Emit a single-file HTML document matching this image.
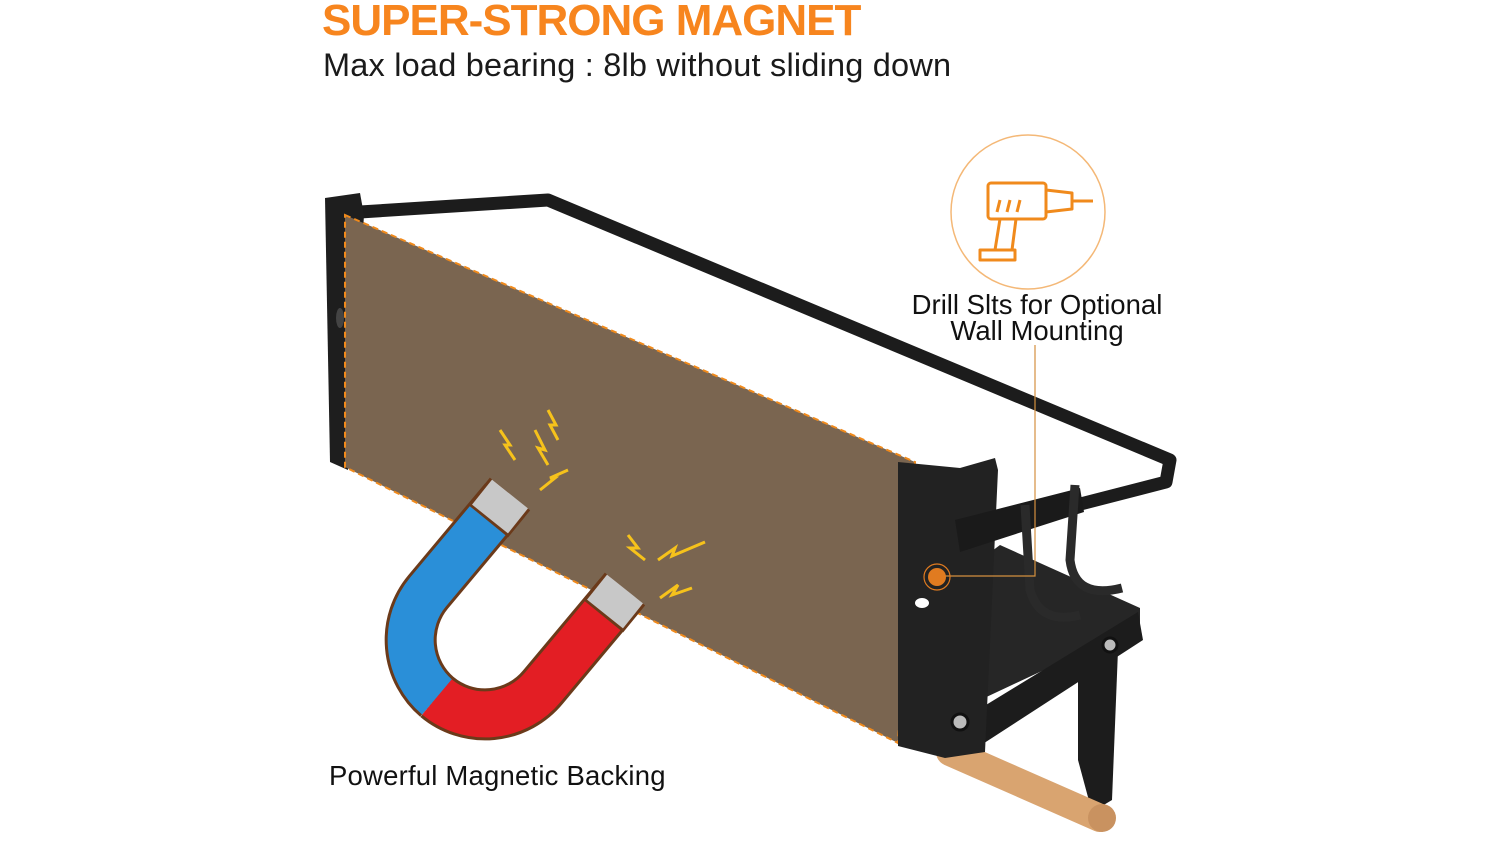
<!DOCTYPE html>
<html><head><style>
body{margin:0;width:1500px;height:844px;background:#fff;overflow:hidden;font-family:"Liberation Sans",sans-serif;position:relative}
.t{position:absolute;white-space:nowrap}
</style></head><body>
<svg width="1500" height="844" style="position:absolute;left:0;top:0">
<!-- top frame -->
<polyline points="360,212 548,200 1170,460 1166,482 960,535" fill="none" stroke="#1c1c1c" stroke-width="13" stroke-linejoin="round"/>
<!-- left post -->
<polygon points="325,198 360,193 364,215 348,470 330,462" fill="#1e1e1e"/>
<ellipse cx="340" cy="318" rx="4" ry="10" fill="#444"/>
<!-- panel -->
<polygon points="345,215 915,462 898,743 345,467" fill="#7a6550"/>
<polygon points="345,215 915,462 898,743 345,467" fill="none" stroke="#f08a1c" stroke-width="2" stroke-dasharray="6,4"/>
<!-- right bracket -->
<polygon points="980,560 1000,545 1140,608 1140,625 980,700" fill="#262626"/>
<polygon points="945,730 1138,612 1143,640 958,760" fill="#1c1c1c"/>
<polygon points="1078,655 1118,650 1112,800 1092,812 1078,760" fill="#1c1c1c"/>
<line x1="950" y1="752" x2="1100" y2="818" stroke="#d9a470" stroke-width="28" stroke-linecap="round"/>
<circle cx="1102" cy="818" r="14" fill="#c99260"/>
<polygon points="898,462 960,468 995,458 998,470 985,752 945,758 898,746" fill="#222"/>
<polygon points="955,520 1080,488 1084,512 960,552" fill="#1a1a1a"/>
<path d="M1025,505 L1030,590 Q1040,625 1080,615" fill="none" stroke="#2a2a2a" stroke-width="9"/>
<path d="M1075,485 L1070,560 Q1075,600 1122,588" fill="none" stroke="#2a2a2a" stroke-width="9"/>
<circle cx="960" cy="722" r="8" fill="#bbb" stroke="#111" stroke-width="3"/>
<circle cx="1110" cy="645" r="7" fill="#bbb" stroke="#111" stroke-width="3"/>
<ellipse cx="922" cy="603" rx="7" ry="5" fill="#fff"/>
<!-- callout -->
<circle cx="1028" cy="212" r="77" fill="none" stroke="#f4b877" stroke-width="1.5"/>
<polyline points="1035,345 1035,576 945,576" fill="none" stroke="#d4903f" stroke-width="1.2"/>
<circle cx="937" cy="577" r="13" fill="none" stroke="#e07b20" stroke-width="1.2"/>
<circle cx="937" cy="577" r="9" fill="#e07b20"/>
<!-- drill icon -->
<g fill="none" stroke="#f08a1c" stroke-width="3" stroke-linejoin="round">
<rect x="988" y="183" width="58" height="36" rx="3"/>
<path d="M1046,190 L1072,193 L1072,209 L1046,212"/>
<line x1="1072" y1="201" x2="1093" y2="201"/>
<path d="M1000,219 L995,250 L1012,250 L1016,219"/>
<rect x="980" y="250" width="35" height="10"/>
<line x1="1000" y1="200" x2="997" y2="212"/><line x1="1010" y1="200" x2="1007" y2="212"/><line x1="1020" y1="200" x2="1017" y2="212"/>
</g>
<!-- magnet -->
<path d="M505,500 L428,592 A75,75 0 0 0 437,697" fill="none" stroke="#6b3a1a" stroke-width="52"/>
<path d="M437,697 A75,75 0 0 0 543,687 L620,595" fill="none" stroke="#6b3a1a" stroke-width="52"/>
<path d="M505,500 L428,592 A75,75 0 0 0 437,697" fill="none" stroke="#2a8fd8" stroke-width="46"/>
<path d="M437,697 A75,75 0 0 0 543,687 L620,595" fill="none" stroke="#e31e24" stroke-width="46"/>
<line x1="510" y1="494" x2="488" y2="521" stroke="#6b3a1a" stroke-width="52"/>
<line x1="510" y1="494" x2="490" y2="519" stroke="#c8c8c8" stroke-width="46"/>
<line x1="625" y1="589" x2="603" y2="616" stroke="#6b3a1a" stroke-width="52"/>
<line x1="625" y1="589" x2="605" y2="614" stroke="#c8c8c8" stroke-width="46"/>
<g fill="none" stroke="#f6c21b" stroke-width="3">
<polyline points="500,430 510,445 505,445 515,460"/>
<polyline points="535,430 545,450 538,448 548,465"/>
<polyline points="548,410 556,425 550,425 558,440"/>
<polyline points="540,490 555,478 550,478 568,470"/>
<polyline points="628,535 638,548 630,548 645,560"/>
<polyline points="658,560 675,548 672,556 705,542"/>
<polyline points="660,598 678,585 672,595 692,588"/>
</g>
</svg>
<div class="t" style="left:322px;top:-4px;font-size:44px;font-weight:bold;color:#f7851e;letter-spacing:-1px">SUPER-STRONG MAGNET</div>
<div class="t" style="left:323px;top:47px;font-size:32.5px;color:#1a1a1a;letter-spacing:0.2px">Max load bearing : 8lb without sliding down</div>
<div class="t" style="left:908px;top:292px;font-size:27.5px;color:#111;text-align:center;line-height:26px;width:258px">Drill Slts for Optional<br>Wall Mounting</div>
<div class="t" style="left:329px;top:760px;font-size:27.5px;color:#111;letter-spacing:0.2px">Powerful Magnetic Backing</div>
</body></html>
